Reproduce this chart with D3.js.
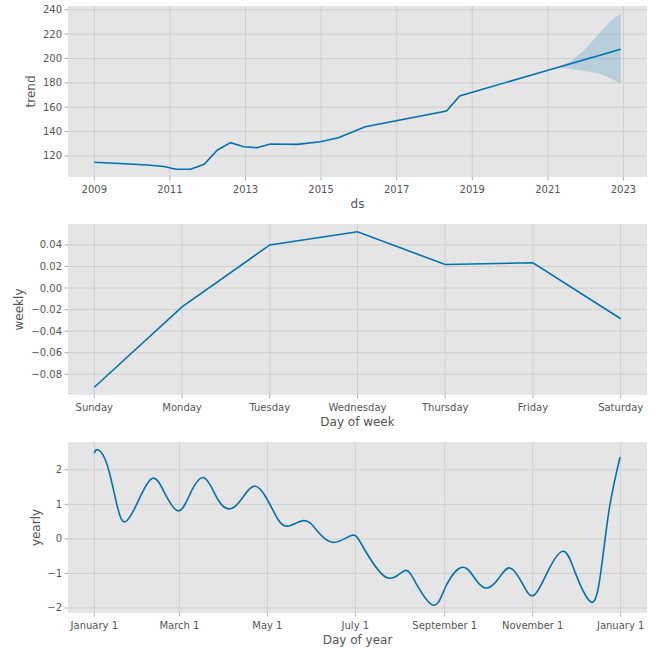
<!DOCTYPE html>
<html>
<head>
<meta charset="utf-8">
<script src="https://cdn.jsdelivr.net/npm/d3@7"></script>
<style>
  body { margin: 0; background: #fff; }
  text { font-family: "DejaVu Sans", sans-serif; }
</style>
</head>
<body>
<svg id="canvas" width="654" height="648"></svg>
<script>
// ---------------- data ----------------
var trend_dates = ['2009-01-01','2009-09-01','2010-06-01','2010-11-05','2011-02-28','2011-07-20',
  '2011-11-28','2012-04-05','2012-08-10','2012-12-15','2013-04-22','2013-08-28','2014-05-15',
  '2014-12-25','2015-06-17','2016-03-03','2018-04-27','2018-09-01','2021-01-01','2022-12-05'];
var trend_values = [114.8,113.8,112.6,111.3,109.1,109.1,113.2,124.9,130.9,127.6,126.8,129.8,129.5,
  131.7,135.0,144.0,156.8,169.3,190.4,207.6];

var band_dates = ['2021-01-01','2021-04-05','2021-08-28','2022-01-01','2022-05-10','2022-09-01','2022-12-05'];
var band_upper = [190.4,192.7,198.5,208.1,220.4,231.2,236.7];
var band_lower = [190.4,192.6,191.1,189.8,187.6,183.5,179.4];

var trend_ticks = [2009,2011,2013,2015,2017,2019,2021,2023];
var trend_yticks = [120,140,160,180,200,220,240];

var weekdays = ['Sunday','Monday','Tuesday','Wednesday','Thursday','Friday','Saturday'];
var weekly_values = [-0.092,-0.0175,0.040,0.0522,0.0218,0.0234,-0.0285];
var weekly_yticks = [-0.08,-0.06,-0.04,-0.02,0.00,0.02,0.04];

var yearly_days = [0,2.5,9,16,21.6,29.7,40,49,58.4,66.5,76.2,86,95.3,103.3,111.4,119.5,126.3,133.7,
  145.2,154,165.5,178.2,186.2,202.3,215,223,235.2,243.8,255.3,264.5,272.5,280.6,288.2,296.7,
  304.8,315.1,325.5,333.6,342.8,349.7,356.6,364.6];
var yearly_values = [2.48,2.58,2.13,0.93,0.50,1.03,1.75,1.31,0.81,1.31,1.77,1.12,0.88,1.22,1.53,1.17,
  0.64,0.37,0.53,0.26,-0.10,0.10,-0.22,-1.11,-0.92,-1.28,-1.92,-1.37,-0.82,-1.18,-1.42,-1.13,
  -0.84,-1.28,-1.63,-0.89,-0.36,-0.99,-1.77,-1.37,0.74,2.37];
var yearly_tick_days = [0,59,120,181,243,304,365];
var yearly_tick_labels = ['January 1','March 1','May 1','July 1','September 1','November 1','January 1'];
var yearly_yticks = [-2,-1,0,1,2];

// ---------------- helpers ----------------
var svg = d3.select('#canvas');
var line_color = '#0072B2';
var left = 68, right = 647;

function pad(ext, f){ var r = ext[1]-ext[0]; return [ext[0]-r*f, ext[1]+r*f]; }

function panel(top, bottom, xScale, yScale, xticks, xfmt, yticks, yfmt, xlabel, ylabel, ylabelX){
  var g = svg.append('g');
  g.append('rect').attr('x', left).attr('y', top).attr('width', right-left).attr('height', bottom-top).attr('fill', '#E5E5E5');
  // x grid + ticks
  xticks.forEach(function(t){
    g.append('line').attr('x1', xScale(t)).attr('x2', xScale(t)).attr('y1', top).attr('y2', bottom)
      .attr('stroke', '#cfcfcf').attr('stroke-width', 1);
    g.append('line').attr('x1', xScale(t)).attr('x2', xScale(t)).attr('y1', bottom).attr('y2', bottom+3.5)
      .attr('stroke', '#999').attr('stroke-width', 0.8);
    g.append('text').attr('x', xScale(t)).attr('y', bottom+15.5).attr('text-anchor', 'middle')
      .attr('font-size', 10).attr('fill', '#555').text(xfmt(t));
  });
  // y grid + ticks
  yticks.forEach(function(t){
    g.append('line').attr('x1', left).attr('x2', right).attr('y1', yScale(t)).attr('y2', yScale(t))
      .attr('stroke', '#cfcfcf').attr('stroke-width', 1);
    g.append('line').attr('x1', left-3.5).attr('x2', left).attr('y1', yScale(t)).attr('y2', yScale(t))
      .attr('stroke', '#999').attr('stroke-width', 0.8);
    g.append('text').attr('x', left-6).attr('y', yScale(t)).attr('dy', '0.35em').attr('text-anchor', 'end')
      .attr('font-size', 10).attr('fill', '#555').text(yfmt(t));
  });
  g.append('text').attr('x', (left+right)/2).attr('y', bottom+30.5).attr('text-anchor', 'middle')
    .attr('font-size', 12).attr('fill', '#555').text(xlabel);
  g.append('text').attr('transform', 'translate(' + ylabelX + ',' + (top+bottom)/2 + ') rotate(-90)')
    .attr('text-anchor', 'middle').attr('font-size', 12).attr('fill', '#555').text(ylabel);
  return g;
}

var minus = function(s){ return s.replace('-', '\u2212'); };

// ---------------- trend ----------------
var parse = d3.timeParse('%Y-%m-%d');
var tDates = trend_dates.map(parse);
var bDates = band_dates.map(parse);
var tx0 = tDates[0], tx1 = tDates[tDates.length-1];
var tspan = tx1 - tx0;
var trendX = d3.scaleTime().domain([new Date(+tx0 - tspan*0.05), new Date(+tx1 + tspan*0.05)]).range([left, right]);
var tyExt = [d3.min(trend_values.concat(band_lower)), d3.max(trend_values.concat(band_upper))];
var trendY = d3.scaleLinear().domain(pad(tyExt, 0.05)).range([177, 6]);

var g1 = panel(6, 177, function(y){ return trendX(new Date(y, 0, 1)); }, trendY,
  trend_ticks, function(y){ return String(y); }, trend_yticks, function(v){ return String(v); },
  'ds', 'trend', 34.5);

g1.append('path').datum(d3.range(band_dates.length))
  .attr('d', d3.area().x(function(i){ return trendX(bDates[i]); })
    .y0(function(i){ return trendY(band_lower[i]); }).y1(function(i){ return trendY(band_upper[i]); }))
  .attr('fill', line_color).attr('fill-opacity', 0.2);
g1.append('path').datum(d3.range(trend_dates.length))
  .attr('d', d3.line().x(function(i){ return trendX(tDates[i]); }).y(function(i){ return trendY(trend_values[i]); }))
  .attr('fill', 'none').attr('stroke', line_color).attr('stroke-width', 1.6);

// ---------------- weekly ----------------
var weekX = d3.scaleLinear().domain([-0.3, 6.3]).range([left, right]);
var weekY = d3.scaleLinear().domain(pad(d3.extent(weekly_values), 0.05)).range([395, 224]);
var g2 = panel(224, 395, weekX, weekY, d3.range(7), function(i){ return weekdays[i]; },
  weekly_yticks, function(v){ return minus(v.toFixed(2)); }, 'Day of week', 'weekly', 23);
g2.append('path').datum(d3.range(7))
  .attr('d', d3.line().x(function(i){ return weekX(i); }).y(function(i){ return weekY(weekly_values[i]); }))
  .attr('fill', 'none').attr('stroke', line_color).attr('stroke-width', 1.6);

// ---------------- yearly ----------------
var yearX = d3.scaleLinear().domain([-18.25, 383.25]).range([left, right]);
var yearY = d3.scaleLinear().domain(pad(d3.extent(yearly_values), 0.05)).range([613, 442]);
var g3 = panel(442, 613, yearX, yearY, yearly_tick_days, function(d){ return yearly_tick_labels[yearly_tick_days.indexOf(d)]; },
  yearly_yticks, function(v){ return minus(String(v)); }, 'Day of year', 'yearly', 40);
g3.append('path').datum(d3.range(yearly_days.length))
  .attr('d', d3.line().curve(d3.curveNatural)
    .x(function(i){ return yearX(yearly_days[i]); }).y(function(i){ return yearY(yearly_values[i]); }))
  .attr('fill', 'none').attr('stroke', line_color).attr('stroke-width', 1.6);
</script>
</body>
</html>
